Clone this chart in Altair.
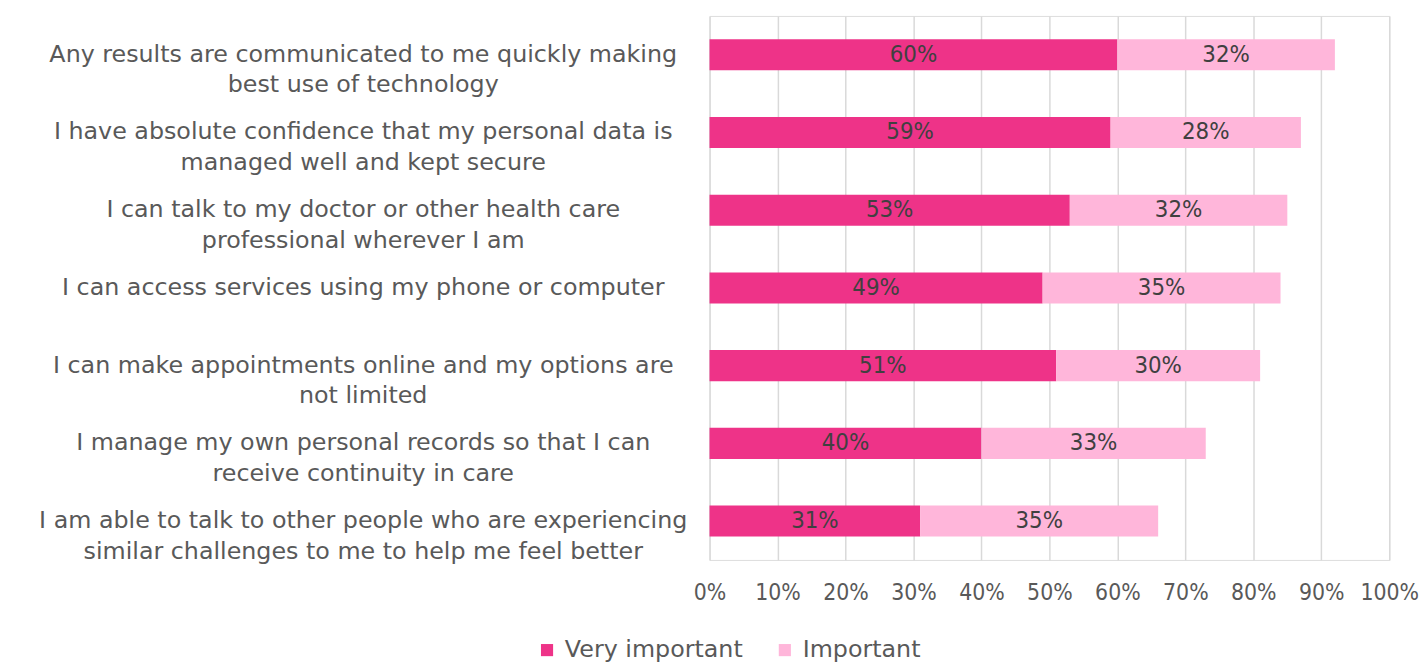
import altair as alt
import pandas as pd

categories = [
    "Any results are communicated to me quickly making|best use of  technology",
    "I have absolute confidence that my personal data is|managed well and kept secure",
    "I can talk to my doctor or other health care|professional wherever I am",
    "I can access services using my phone or computer",
    "I can make appointments online and my options are|not limited",
    "I manage my own personal records so that I can|receive continuity in care",
    "I am able to talk to other people who are experiencing|similar challenges to me to help me feel better",
]
very_important = [60, 59, 53, 49, 51, 40, 31]
important = [32, 28, 32, 35, 30, 33, 35]
series = ["Very important", "Important"]
colors = ["#EE3388", "#FFB6DA"]

rows = []
for c, v, i in zip(categories, very_important, important):
    rows.append({"cat": c, "series": series[0], "value": v, "ord": 0})
    rows.append({"cat": c, "series": series[1], "value": i, "ord": 1})
df = pd.DataFrame(rows)

FONT = "DejaVu Sans"
NARROW = "Liberation Sans Narrow, DejaVu Sans Condensed"
GREY = "#595959"

base = alt.Chart(df).transform_stack(
    stack="value", groupby=["cat"], as_=["v0", "v1"], sort=[alt.SortField("ord")]
).transform_calculate(mid="(datum.v0 + datum.v1) / 2")

y = alt.Y(
    "cat:N",
    sort=categories,
    title=None,
    scale=alt.Scale(paddingInner=0.6, paddingOuter=0.3),
    axis=alt.Axis(
        labelExpr="split(datum.label, '|')",
        labelFont=FONT, labelFontSize=24, labelColor=GREY,
        labelAlign="center", labelPadding=350, labelLineHeight=31,
        domain=False, ticks=False, grid=False, labelLimit=900,
    ),
)

bars = base.mark_bar().encode(
    x=alt.X(
        "v0:Q",
        scale=alt.Scale(domain=[0, 100], nice=False),
        title=None,
        axis=alt.Axis(
            values=list(range(0, 101, 10)),
            labelExpr="datum.value + '%'",
            labelFont=NARROW, labelFontSize=23, labelColor=GREY,
            labelPadding=22, domain=False, ticks=False, labelOverlap=False,
            labelFlush=False,
            grid=True, gridColor="#D9D9D9", gridWidth=1.5,
        ),
    ),
    x2="v1:Q",
    y=y,
    color=alt.Color(
        "series:N",
        scale=alt.Scale(domain=series, range=colors),
        legend=alt.Legend(
            title=None, orient="none", direction="horizontal",
            legendX=-176, legendY=628,
            labelFont=FONT, labelFontSize=24, labelColor=GREY,
            labelLimit=400,
            symbolType="square", symbolSize=150, symbolStrokeWidth=0,
            columnPadding=30, labelOffset=6,
        ),
    ),
)

labels = base.mark_text(font=NARROW, fontSize=24, color="#404040").encode(
    x="mid:Q",
    y=alt.Y("cat:N", sort=categories),
    text=alt.Text("label:N"),
).transform_calculate(label="datum.value + '%'")

chart = (
    alt.layer(bars, labels)
    .properties(
        width=686,
        height=549,
        autosize=alt.AutoSizeParams(type="none"),
        padding={"left": 708, "top": 5, "right": 30, "bottom": 100},
    )
    .configure_view(stroke=None)
    .configure(background="white")
)

chart.save("out.html", embed_options={"renderer": "svg", "actions": False})
